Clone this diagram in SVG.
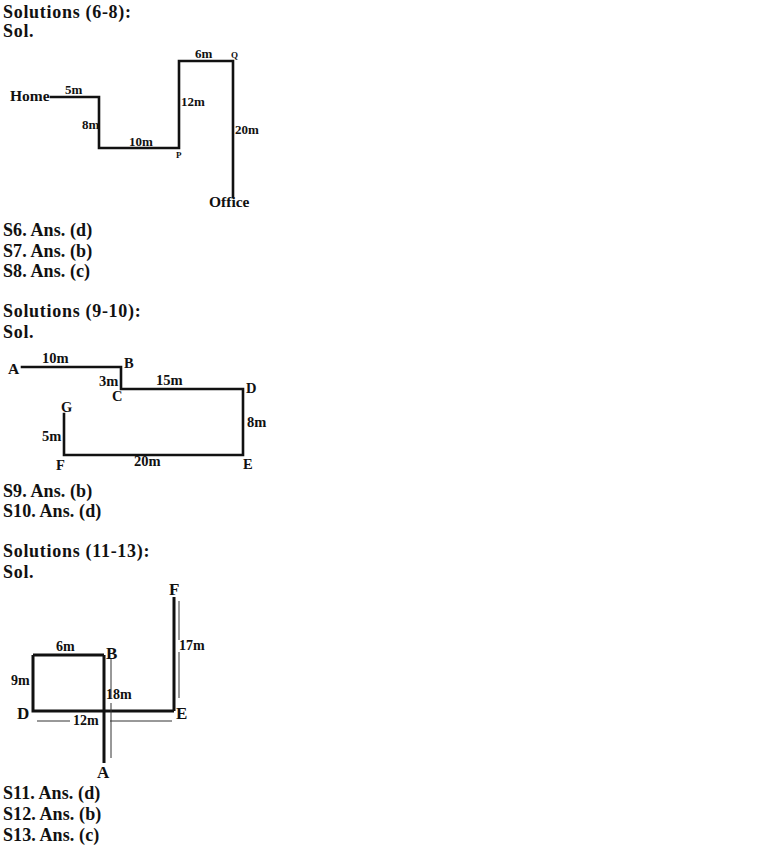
<svg xmlns="http://www.w3.org/2000/svg" width="757" height="846" viewBox="0 0 757 846">
<style>
.h{font-family:"Liberation Serif","Times New Roman",serif;font-weight:bold;font-size:18px;letter-spacing:0.7px;fill:#111}
.a{letter-spacing:0.1px}
.l{font-family:"Liberation Serif","Times New Roman",serif;font-weight:bold;fill:#111}
.s1{font-size:13px}
.s2{font-size:14.5px}
.s3{font-size:14px}
.big{font-size:15.5px}
.big3{font-size:17px}
.tiny{font-size:9px}
.w{fill:none;stroke:#111;stroke-width:2.6;stroke-linejoin:miter;stroke-linecap:square}
.w3{fill:none;stroke:#111;stroke-width:3;stroke-linecap:butt}
.t{fill:none;stroke:#333;stroke-width:1}
</style>
<rect width="757" height="846" fill="#fff"/>
<g id="text-headings">
<text class="h" x="3" y="18">Solutions (6-8):</text>
<text class="h" x="3" y="37">Sol.</text>
<text class="h a" x="3" y="236">S6. Ans. (d)</text>
<text class="h a" x="3" y="257">S7. Ans. (b)</text>
<text class="h a" x="3" y="277">S8. Ans. (c)</text>
<text class="h" x="3" y="317">Solutions (9-10):</text>
<text class="h" x="3" y="338">Sol.</text>
<text class="h a" x="3" y="497">S9. Ans. (b)</text>
<text class="h a" x="3" y="517">S10. Ans. (d)</text>
<text class="h" x="3" y="557">Solutions (11-13):</text>
<text class="h" x="3" y="578">Sol.</text>
<text class="h a" x="3" y="799">S11. Ans. (d)</text>
<text class="h a" x="3" y="820">S12. Ans. (b)</text>
<text class="h a" x="3" y="841">S13. Ans. (c)</text>
</g>
<g id="connectors">
<path class="w" d="M51,97 H99 V148 H179 V61 H233 V197"/>
<path class="w" d="M22,367 H121 V389 H243 V455 H64 V414"/>
<path class="w3" d="M174,597 V711 M33,655 H104 M33,655 V711 H174 M104,655 V763"/>
<path class="t" d="M179,601 V640 M179,652 V698 M111,658 V698 M111,703 V758 M37,721 H70 M110,721 H172"/>
</g>
<g id="node-home"><text class="l big" x="10" y="101">Home</text></g>
<g id="node-p"><text class="l tiny" x="176" y="158">P</text></g>
<g id="node-q"><text class="l tiny" x="231" y="58">Q</text></g>
<g id="node-office"><text class="l big" x="209" y="207">Office</text></g>
<g id="labels-1">
<text class="l s1" x="65" y="94">5m</text>
<text class="l s1" x="82" y="129">8m</text>
<text class="l s1" x="129" y="146">10m</text>
<text class="l s1" x="181" y="106">12m</text>
<text class="l s1" x="195" y="58">6m</text>
<text class="l s1" x="235" y="134">20m</text>
</g>
<g id="node-a2"><text class="l big" x="8" y="374">A</text></g>
<g id="node-b2"><text class="l s2" x="124" y="368">B</text></g>
<g id="node-c2"><text class="l s2" x="112" y="401">C</text></g>
<g id="node-d2"><text class="l s2" x="246" y="393">D</text></g>
<g id="node-e2"><text class="l s2" x="243" y="469">E</text></g>
<g id="node-f2"><text class="l s2" x="56" y="470">F</text></g>
<g id="node-g2"><text class="l s2" x="61" y="412">G</text></g>
<g id="labels-2">
<text class="l s2" x="42" y="363">10m</text>
<text class="l s2" x="99" y="386">3m</text>
<text class="l s2" x="156" y="385">15m</text>
<text class="l s2" x="247" y="427">8m</text>
<text class="l s2" x="42" y="441">5m</text>
<text class="l s2" x="134" y="466">20m</text>
</g>
<g id="node-f3"><text class="l big3" x="169" y="595">F</text></g>
<g id="node-b3"><text class="l big3" x="106" y="659">B</text></g>
<g id="node-d3"><text class="l big3" x="17" y="719">D</text></g>
<g id="node-e3"><text class="l big3" x="176" y="719">E</text></g>
<g id="node-a3"><text class="l big3" x="97" y="778">A</text></g>
<g id="labels-3">
<text class="l s3" x="56" y="651">6m</text>
<text class="l s3" x="11" y="685">9m</text>
<text class="l s3" x="179" y="650">17m</text>
<text class="l s3" x="106" y="699">18m</text>
<text class="l s3" x="73" y="725">12m</text>
</g>
</svg>
